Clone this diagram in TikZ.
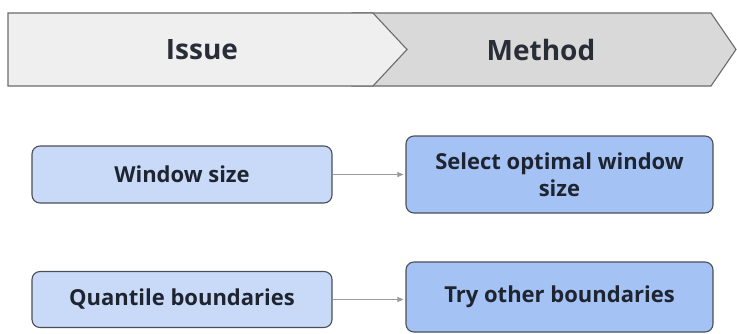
\documentclass[tikz,border=0pt]{standalone}
\usepackage{fontspec}
\setmainfont{Open Sans}
\usetikzlibrary{arrows.meta}
\definecolor{hdrA}{HTML}{EFEFEF}
\definecolor{hdrB}{HTML}{D9D9D9}
\definecolor{hdrline}{HTML}{6B6B6B}
\definecolor{lblue}{HTML}{C9DAF8}
\definecolor{dblue}{HTML}{A4C2F4}
\definecolor{boxline}{HTML}{4A4F57}
\definecolor{txt}{HTML}{1E2430}
\definecolor{arr}{HTML}{9A9A9A}
\tikzset{
  hdr/.style={draw=hdrline, line width=1.1pt, line join=miter},
  hdrtext/.style={font=\bfseries\fontsize{28}{32}\selectfont, text=txt!90!gray},
  issuebox/.style={draw=boxline, line width=1.1pt, rounded corners=8pt, fill=lblue,
    minimum width=300pt, minimum height=57pt, font=\bfseries\fontsize{22}{27}\selectfont, text=txt, inner sep=0pt},
  methodbox/.style={draw=boxline, line width=1.1pt, rounded corners=8pt, fill=dblue,
    minimum width=307pt, font=\bfseries\fontsize{22}{27}\selectfont, text=txt, align=center, inner sep=0pt},
  conn/.style={draw=arr, line width=0.9pt, -{Triangle[length=6pt,width=5pt]}}
}
\begin{document}
\begin{tikzpicture}[x=1pt,y=-1pt]
\useasboundingbox (0,0) rectangle (737,333);
% header chevrons
\draw[hdr, fill=hdrB] (352,13) -- (711,13) -- (736,49.5) -- (711,86) -- (352,86) -- cycle;
\draw[hdr, fill=hdrA] (8,13) -- (373,13) -- (407,49.5) -- (373,86) -- (8,86) -- cycle;
\node[hdrtext] (issue) at (202,49.5) {Issue};
\node[hdrtext] (method) at (541,49.5) {Method};
% boxes
\node[issuebox] (win) at (182,174.5) {Window size};
\node[methodbox, minimum height=77pt] (sel) at (559.5,174.5) {Select optimal window\\size};
\node[issuebox, minimum height=56pt] (quant) at (182,299.5) {Quantile boundaries};
\node[methodbox, minimum height=70pt] (try) at (559.5,297) {Try other boundaries};
% connectors
\draw[conn] (win.east) -- ([xshift=-2pt]sel.west |- win.east);
\draw[conn] (quant.east) -- ([xshift=-2pt]try.west |- quant.east);
\end{tikzpicture}
\end{document}
